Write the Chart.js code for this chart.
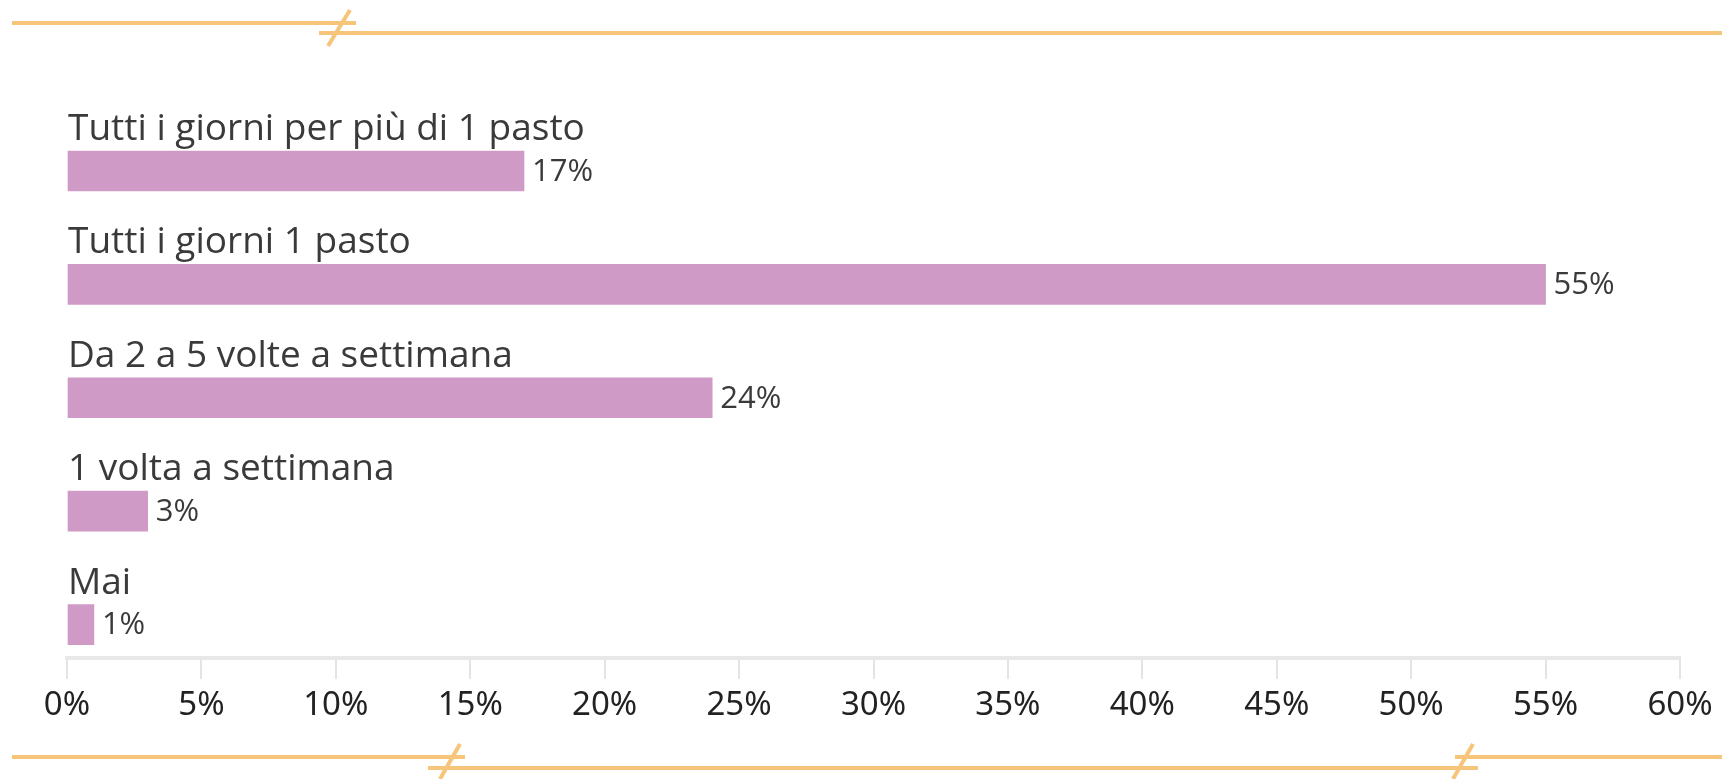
<!DOCTYPE html>
<html>
<head>
<meta charset="utf-8">
<script src="https://cdn.jsdelivr.net/npm/chart.js@4"></script>
<style>
    html, body { margin: 0; padding: 0; background: #ffffff; }
    #wrap { width: 1722px; height: 779px; position: relative; }
</style>
</head>
<body>
<div id="wrap"><canvas id="chart"></canvas></div>
<script>
const categories = [
    "Tutti i giorni per più di 1 pasto",
    "Tutti i giorni 1 pasto",
    "Da 2 a 5 volte a settimana",
    "1 volta a settimana",
    "Mai"
];
const percentages = [17, 55, 24, 3, 1];
const xTicks = [0, 5, 10, 15, 20, 25, 30, 35, 40, 45, 50, 55, 60];

const barColor = "#d09ac6";
const orange = "#f6c57a";
const textColor = "#3a3a3a";

const ctx = document.getElementById("chart");

// category name above each bar, value to the right of it
const barLabels = {
    id: "barLabels",
    afterDatasetsDraw(chart) {
        const c = chart.ctx;
        const meta = chart.getDatasetMeta(0);
        c.save();
        meta.data.forEach((bar, i) => {
            const top = bar.y - bar.height / 2;
            c.fillStyle = textColor;
            c.font = "37px 'Open Sans'";
            c.textAlign = "left";
            c.textBaseline = "alphabetic";
            c.fillText(categories[i], chart.chartArea.left + 1, top - 11);

            c.font = "31px 'Open Sans'";
            c.textBaseline = "middle";
            c.fillText(percentages[i] + "%", bar.x + 8, bar.y + 1);
        });
        c.restore();
    }
};

// the orange broken lines at top and bottom
const decoration = {
    id: "decoration",
    beforeDraw(chart) {
        const c = chart.ctx;
        const segs = [
            [12, 23, 356, 23], [319, 33, 1722, 33], [350, 10, 328, 46],
            [12, 757, 465, 757], [428, 768, 1478, 768], [1455, 757, 1722, 757],
            [460, 744, 440, 779], [1473, 744, 1453, 779]
        ];
        c.save();
        c.strokeStyle = orange;
        c.lineWidth = 4;
        segs.forEach((s) => {
            c.beginPath();
            c.moveTo(s[0], s[1]);
            c.lineTo(s[2], s[3]);
            c.stroke();
        });
        c.restore();
    }
};

const points = percentages.map((v, i) => ({ x: v, y: i }));

new Chart(ctx, {
    type: "bar",
    data: {
        datasets: [
            {
                data: points,
                backgroundColor: barColor,
                borderWidth: 0,
                barThickness: 40,
            },
        ],
    },
    options: {
        indexAxis: "y",
        responsive: true,
        maintainAspectRatio: false,
        animation: false,
        layout: { padding: { left: 67, right: 42, top: 103, bottom: 0 } },
        plugins: {
            legend: { display: false },
            tooltip: { enabled: false },
        },
        scales: {
            y: {
                type: "linear",
                reverse: true,
                offset: false,
                bounds: "data",
                min: -0.6,
                max: 4.295,
                display: false,
                grid: { offset: false },
            },
            x: {
                type: "linear",
                min: 0,
                max: 60,
                afterBuildTicks: (scale) => {
                    scale.ticks = xTicks.map((v) => ({ value: v }));
                },
                afterFit: (scale) => {
                    scale.height = 121;
                },
                grid: {
                    drawOnChartArea: false,
                    drawTicks: true,
                    tickLength: 21,
                    color: "#e4e4e4",
                    lineWidth: 2,
                },
                border: { display: true, color: "#e8e8e8", width: 4 },
                ticks: {
                    padding: 7,
                    color: "#222222",
                    font: { family: "'Noto Sans'", size: 33 },
                    callback: (v) => v + "%",
                },
            },
        },
    },
    plugins: [decoration, barLabels],
});
</script>
</body>
</html>
